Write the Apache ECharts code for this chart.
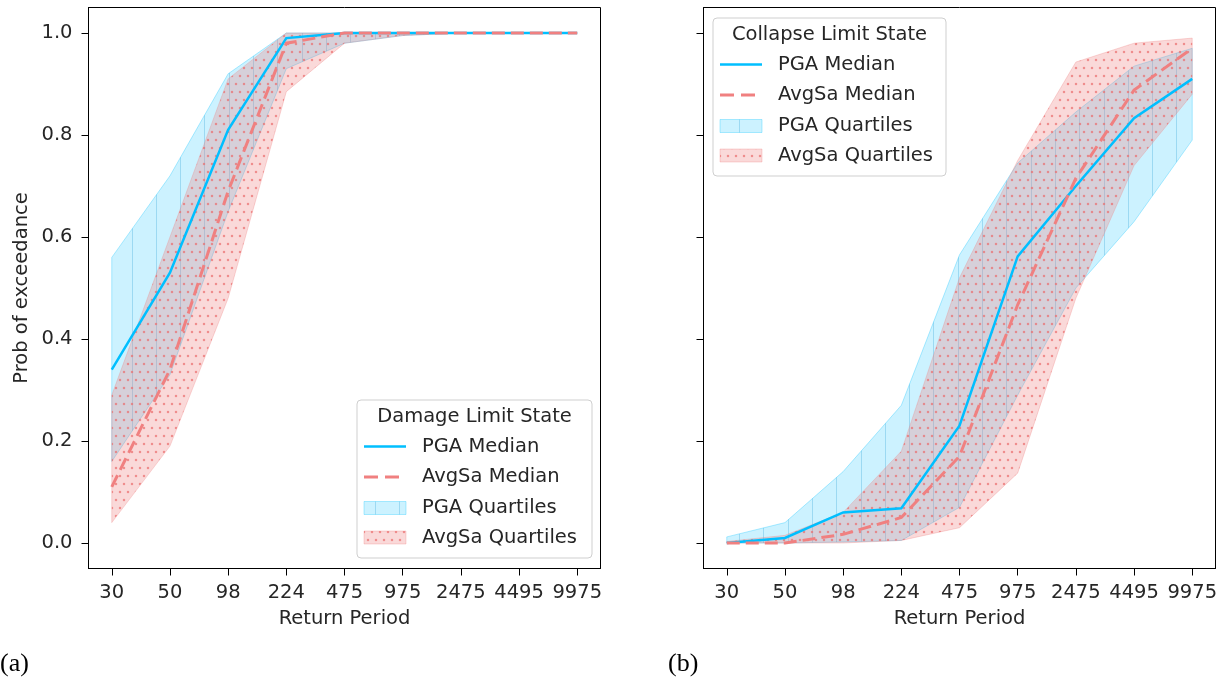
<!DOCTYPE html>
<html>
<head>
<meta charset="utf-8">
<script src="https://cdn.jsdelivr.net/npm/echarts@6/dist/echarts.min.js"></script>
<style>
  html, body { margin: 0; padding: 0; background: #fff; }
  #chart { width: 1225px; height: 682px; }
</style>
</head>
<body>
<div id="chart"></div>
<script>
// Return periods (years) shown as evenly spaced categories
const returnPeriods = ['30', '50', '98', '224', '475', '975', '2475', '4495', '9975'];
const yTicks = [0.0, 0.2, 0.4, 0.6, 0.8, 1.0];

// (a) Damage limit state
const dmgPgaMedian   = [0.34, 0.53, 0.81, 0.99, 1.0, 1.0, 1.0, 1.0, 1.0];
const dmgAvgSaMedian = [0.11, 0.34, 0.69, 0.98, 1.0, 1.0, 1.0, 1.0, 1.0];
const dmgPgaLower    = [0.16, 0.33, 0.65, 0.93, 0.98, 0.995, 1.0, 1.0, 1.0];
const dmgPgaUpper    = [0.56, 0.72, 0.92, 1.0, 1.0, 1.0, 1.0, 1.0, 1.0];
const dmgAvgSaLower  = [0.04, 0.19, 0.48, 0.885, 0.98, 0.995, 1.0, 1.0, 1.0];
const dmgAvgSaUpper  = [0.29, 0.60, 0.91, 1.0, 1.0, 1.0, 1.0, 1.0, 1.0];

// (b) Collapse limit state
const colPgaMedian   = [0.0, 0.01, 0.06, 0.068, 0.23, 0.562, 0.70, 0.833, 0.91];
const colAvgSaMedian = [0.0, 0.0, 0.017, 0.05, 0.17, 0.467, 0.715, 0.888, 0.97];
const colPgaLower    = [0.0, 0.0, 0.002, 0.005, 0.07, 0.29, 0.50, 0.63, 0.79];
const colPgaUpper    = [0.012, 0.04, 0.14, 0.27, 0.565, 0.745, 0.845, 0.935, 0.97];
const colAvgSaLower  = [0.0, 0.0, 0.0, 0.005, 0.03, 0.137, 0.48, 0.74, 0.88];
const colAvgSaUpper  = [0.003, 0.015, 0.06, 0.18, 0.52, 0.75, 0.943, 0.98, 0.99];

const FONT_FAMILY = 'DejaVu Sans';
const FONT_SIZE = 19.5;
const TEXT_COLOR = '#262626';
const BLUE = '#00BFFF';
const CORAL = '#F08080';

// Vertical-line hatch over a pale blue wash
function makeLineHatch() {
  const c = document.createElement('canvas');
  c.width = 243; c.height = 8;
  const ctx = c.getContext('2d');
  ctx.fillStyle = 'rgba(0,191,255,0.2)';
  ctx.fillRect(0, 0, c.width, c.height);
  ctx.fillStyle = 'rgba(0,140,200,0.24)';
  for (let k = 0; k < 10; k++) {
    ctx.fillRect(Math.round(10 + 24.3 * k), 0, 1, c.height);
  }
  return { image: c, repeat: 'repeat' };
}

// Dotted hatch over a pale coral wash
function makeDotHatch() {
  const c = document.createElement('canvas');
  c.width = 16; c.height = 16;
  const ctx = c.getContext('2d');
  ctx.fillStyle = 'rgba(240,128,128,0.3)';
  ctx.fillRect(0, 0, 16, 16);
  ctx.fillStyle = 'rgba(235,110,110,0.7)';
  const dots = [[4, 4], [12, 4], [0, 12], [8, 12], [16, 12]];
  dots.forEach(([x, y]) => {
    ctx.beginPath();
    ctx.arc(x, y, 1.25, 0, Math.PI * 2);
    ctx.fill();
  });
  return { image: c, repeat: 'repeat' };
}

const blueFill = makeLineHatch();
const coralFill = makeDotHatch();
const blueEdge = 'rgba(0,191,255,0.3)';
const coralEdge = 'rgba(240,128,128,0.3)';

const idx = returnPeriods.map((_, i) => i);
const textStyle = { fontFamily: FONT_FAMILY, fontSize: FONT_SIZE, color: TEXT_COLOR };

function xAxis(gridIndex) {
  return {
    type: 'value', gridIndex, min: -0.4, max: 8.4,
    splitLine: { show: false },
    axisLine: { show: true, onZero: false, lineStyle: { color: '#000', width: 1 } },
    axisTick: { show: true, inside: false, length: 7, customValues: idx, lineStyle: { color: '#000', width: 1 } },
    axisLabel: Object.assign({ customValues: idx, margin: 14, formatter: v => returnPeriods[Math.round(v)] }, textStyle),
    name: 'Return Period', nameLocation: 'middle', nameGap: 40,
    nameTextStyle: textStyle
  };
}

function yAxis(gridIndex, showLabels) {
  const ax = {
    type: 'value', gridIndex, min: -0.05, max: 1.05,
    splitLine: { show: false },
    axisLine: { show: true, onZero: false, lineStyle: { color: '#000', width: 1 } },
    axisTick: { show: true, inside: false, length: 7, customValues: yTicks, lineStyle: { color: '#000', width: 1 } },
    axisLabel: Object.assign({ show: showLabels, customValues: yTicks, margin: 16, formatter: v => v.toFixed(1) }, textStyle)
  };
  if (showLabels) {
    ax.name = 'Prob of exceedance';
    ax.nameLocation = 'middle';
    ax.nameGap = 57;
    ax.nameTextStyle = textStyle;
  }
  return ax;
}

// Quartile band drawn as a single polygon: upper edge forward, lower edge back
function bandSeries(name, axisIndex, lower, upper, fill, stroke) {
  return {
    type: 'custom', name, xAxisIndex: axisIndex, yAxisIndex: axisIndex,
    data: lower.map((lo, i) => [i, lo, upper[i]]),
    encode: { x: 0, y: [1, 2] },
    z: 2,
    renderItem(params, api) {
      if (params.dataIndex !== 0) return null;
      const pts = [];
      for (let i = 0; i < upper.length; i++) pts.push(api.coord([i, upper[i]]));
      for (let i = lower.length - 1; i >= 0; i--) pts.push(api.coord([i, lower[i]]));
      return { type: 'polygon', shape: { points: pts }, style: { fill, stroke, lineWidth: 1 } };
    }
  };
}

function medianSeries(name, axisIndex, values, color, width, dashed) {
  return {
    type: 'line', name, xAxisIndex: axisIndex, yAxisIndex: axisIndex,
    data: values.map((v, i) => [i, v]),
    symbol: 'none', z: 5,
    lineStyle: { color, width, type: dashed ? [13, 6] : 'solid', cap: 'butt', join: 'miter' }
  };
}

function txt(x, y, text, align) {
  return {
    type: 'text', x, y, z: 101,
    style: {
      text, fill: TEXT_COLOR, font: FONT_SIZE + 'px "' + FONT_FAMILY + '"',
      align, textAlign: align, verticalAlign: 'middle', textVerticalAlign: 'middle'
    }
  };
}

// Boxed legend with a title line
function legendBox(left, top, width, title) {
  const H = 158;
  const rows = [46.5, 77, 108, 137.5];
  const hx1 = left + 7, hx2 = left + 49, tx = left + 65;
  return [
    { type: 'rect', z: 100, shape: { x: left, y: top, width, height: H, r: 4 },
      style: { fill: 'rgba(255,255,255,0.8)', stroke: '#cfcfcf', lineWidth: 1 } },
    txt(left + width / 2, top + 17, title, 'center'),
    { type: 'line', z: 101, shape: { x1: hx1, y1: top + rows[0], x2: hx2, y2: top + rows[0] },
      style: { stroke: BLUE, lineWidth: 2.5 } },
    txt(tx, top + rows[0], 'PGA Median', 'left'),
    { type: 'line', z: 101, shape: { x1: hx1, y1: top + rows[1], x2: hx2, y2: top + rows[1] },
      style: { stroke: CORAL, lineWidth: 3, lineDash: [14, 7] } },
    txt(tx, top + rows[1], 'AvgSa Median', 'left'),
    { type: 'rect', z: 101, shape: { x: hx1, y: top + rows[2] - 6.5, width: 42, height: 13 },
      style: { fill: blueFill, stroke: blueEdge, lineWidth: 1 } },
    txt(tx, top + rows[2], 'PGA Quartiles', 'left'),
    { type: 'rect', z: 101, shape: { x: hx1, y: top + rows[3] - 6.5, width: 42, height: 13 },
      style: { fill: coralFill, stroke: coralEdge, lineWidth: 1 } },
    txt(tx, top + rows[3], 'AvgSa Quartiles', 'left')
  ];
}

function panelLetter(x, text) {
  return {
    type: 'text', x, y: 664, z: 101,
    style: {
      text, fill: '#000', font: '26px "Liberation Serif"',
      align: 'left', textAlign: 'left', verticalAlign: 'middle', textVerticalAlign: 'middle'
    }
  };
}

const chart = echarts.init(document.getElementById('chart'), null, { renderer: 'canvas' });
chart.setOption({
  animation: false,
  backgroundColor: '#fff',
  grid: [
    { left: 88.5, top: 7.5, width: 512, height: 561, show: true, borderColor: '#000', borderWidth: 1, backgroundColor: 'transparent' },
    { left: 703.5, top: 7.5, width: 512, height: 561, show: true, borderColor: '#000', borderWidth: 1, backgroundColor: 'transparent' }
  ],
  xAxis: [xAxis(0), xAxis(1)],
  yAxis: [yAxis(0, true), yAxis(1, false)],
  series: [
    bandSeries('PGA Quartiles', 0, dmgPgaLower, dmgPgaUpper, blueFill, blueEdge),
    bandSeries('AvgSa Quartiles', 0, dmgAvgSaLower, dmgAvgSaUpper, coralFill, coralEdge),
    medianSeries('PGA Median', 0, dmgPgaMedian, BLUE, 2.5, false),
    medianSeries('AvgSa Median', 0, dmgAvgSaMedian, CORAL, 3, true),
    bandSeries('PGA Quartiles', 1, colPgaLower, colPgaUpper, blueFill, blueEdge),
    bandSeries('AvgSa Quartiles', 1, colAvgSaLower, colAvgSaUpper, coralFill, coralEdge),
    medianSeries('PGA Median', 1, colPgaMedian, BLUE, 2.5, false),
    medianSeries('AvgSa Median', 1, colAvgSaMedian, CORAL, 3, true)
  ],
  graphic: [].concat(
    legendBox(357, 400, 235, 'Damage Limit State'),
    legendBox(713, 18, 233, 'Collapse Limit State'),
    [panelLetter(0, '(a)'), panelLetter(668, '(b)')]
  )
});
</script>
</body>
</html>
